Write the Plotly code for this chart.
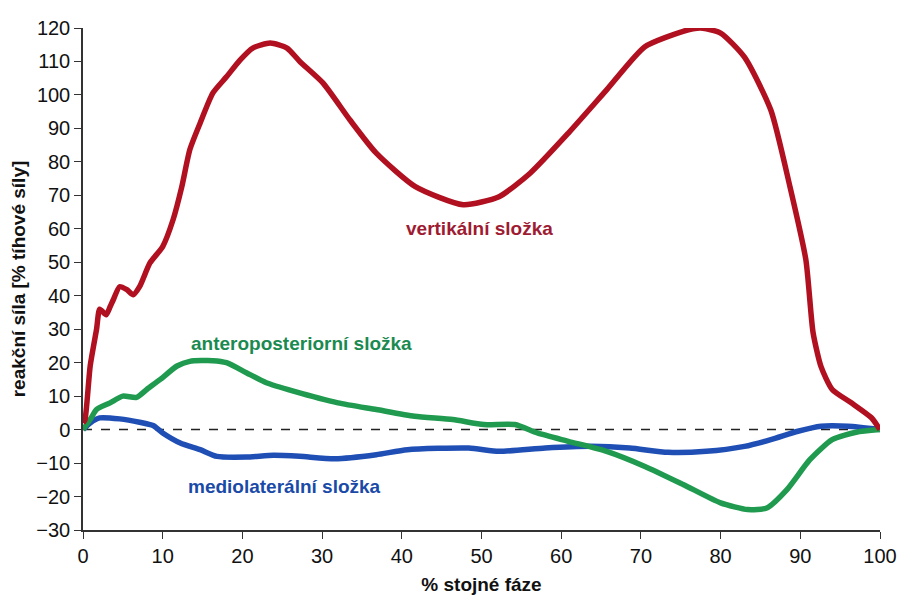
import plotly.graph_objects as go

# vertical component
vert_x = [0, 0.25, 0.9, 1.7, 2.1, 2.9, 3.4, 3.8, 4.6, 5.5, 6.3, 7.1, 8.4, 10, 11.3, 12.4, 13.4, 14.7,
          16.3, 18, 19.7, 21.3, 23.5, 25.6, 27.2, 30.1, 33.5, 36.8, 41.7, 47.7, 52.2, 56.1, 60.9,
          65.7, 70.5, 75.3, 77.5, 80, 83, 86.3, 88.7, 90.7, 91.6, 92.6, 94, 96.4, 98.9, 100]
vert_y = [2, 3, 19, 30, 36, 34.3, 36.7, 38.8, 42.7, 41.8, 40.3, 42.7, 49.8, 54.7, 62.7, 72.6, 83.6, 91.6,
          100.6, 105.4, 110.4, 114, 115.5, 114, 110, 103.6, 92.5, 82.6, 72.6, 67.2, 69.6, 76.6, 88.6,
          101.5, 114.4, 119, 120, 118.5, 111.3, 95.5, 72.6, 50.7, 29, 18.8, 12, 8, 3.6, 0]

# anteroposterior component
ap_x = [0, 0.9, 1.7, 3.4, 5, 6.7, 8, 9.7, 11.8, 13.4, 16.3, 18, 20.5, 23, 26.4, 32, 36.8, 41.6, 46.4,
        50.3, 54.2, 57, 60.9, 65.7, 70.5, 75.3, 80, 83.4, 85.8, 88.3, 91.2, 94, 97, 100]
ap_y = [0, 3, 6, 8, 10, 9.6, 12, 15, 19, 20.4, 20.6, 20, 17, 14, 11.5, 8, 6, 4, 3,
        1.5, 1.5, -1, -3.5, -6.5, -11, -16.4, -21.9, -23.9, -23.4, -18, -9, -3, -0.8, 0]

# mediolateral component
ml_x = [0, 0.9, 2.1, 4.6, 7.1, 8.8, 10, 12.2, 14.7, 16.8, 20.5, 23.9, 27.2, 31.6, 36.8, 40.7, 48.4,
        52.2, 58, 63.7, 68.6, 73.4, 78.2, 83, 86.3, 89.7, 92.6, 96, 100]
ml_y = [0, 2, 3.5, 3.2, 2.2, 1.2, -1, -4, -6, -8, -8.2, -7.7, -8, -8.7, -7.5, -6, -5.5,
        -6.5, -5.5, -5, -5.5, -6.8, -6.5, -5, -3, -0.5, 1, 1, 0]

x_ticks = list(range(0, 101, 10))
y_ticks = list(range(-30, 121, 10))

RED = "#b0101f"
GREEN = "#1f9a4e"
BLUE = "#1f4fb5"
FONT = "Liberation Sans, Arial"

fig = go.Figure()
fig.add_trace(go.Scatter(x=[0, 100], y=[0, 0], mode="lines",
                         line=dict(color="#222222", width=1.5, dash="dash"), hoverinfo="skip"))
fig.add_trace(go.Scatter(x=ml_x, y=ml_y, mode="lines", line=dict(color=BLUE, width=5.5, shape="spline", smoothing=0.6)))
fig.add_trace(go.Scatter(x=ap_x, y=ap_y, mode="lines", line=dict(color=GREEN, width=5.5, shape="spline", smoothing=0.6)))
fig.add_trace(go.Scatter(x=vert_x, y=vert_y, mode="lines", line=dict(color=RED, width=5.5, shape="spline", smoothing=0.6)))

fig.add_annotation(x=49.8, y=60, text="<b>vertikální složka</b>", showarrow=False,
                   font=dict(color="#9e1b32", size=19, family=FONT))
fig.add_annotation(x=27.4, y=25.7, text="<b>anteroposteriorní složka</b>", showarrow=False,
                   font=dict(color="#1a8a50", size=19, family=FONT))
fig.add_annotation(x=25.3, y=-17, text="<b>mediolaterální složka</b>", showarrow=False,
                   font=dict(color="#1a4aa8", size=19, family=FONT))

fig.update_layout(
    width=899, height=602,
    margin=dict(l=83, r=19, t=28, b=72),
    plot_bgcolor="white", paper_bgcolor="white",
    showlegend=False,
    font=dict(family=FONT, size=20, color="#111111"),
)
fig.update_xaxes(range=[0, 100], tickvals=x_ticks, showgrid=False, zeroline=False,
                 showline=True, linecolor="#333333", linewidth=1.5, automargin=False,
                 ticks="outside", ticklen=7, tickcolor="#333333",
                 title=dict(text="<b>% stojné fáze</b>", standoff=12, font=dict(size=19)))
fig.update_yaxes(range=[-30, 120], tickvals=y_ticks, showgrid=False, zeroline=False,
                 showline=True, linecolor="#333333", linewidth=1.5, automargin=False,
                 ticks="outside", ticklen=7, tickcolor="#333333",
                 title=dict(text="<b>reakční síla [% tíhové síly]</b>", standoff=6, font=dict(size=19)))

fig.write_html("out.html")
